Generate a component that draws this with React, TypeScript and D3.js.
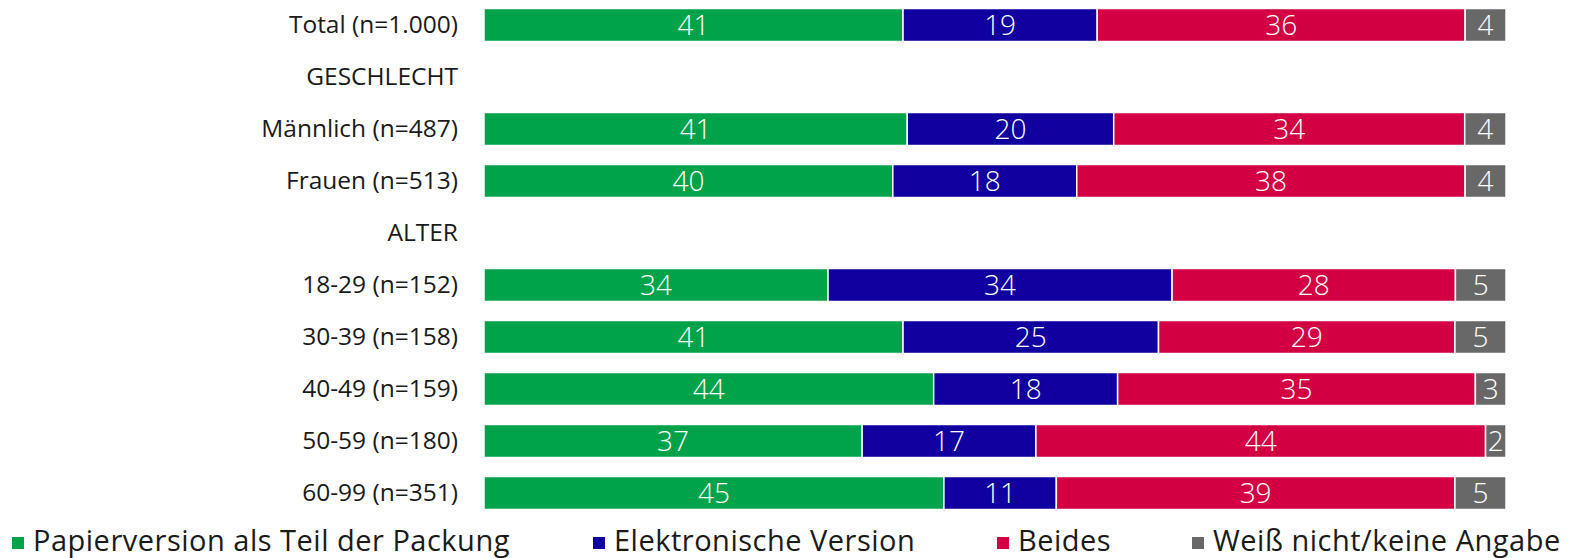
import React from "react";
import * as d3 from "d3";

const categories = [
  "Total (n=1.000)",
  "GESCHLECHT",
  "Männlich (n=487)",
  "Frauen (n=513)",
  "ALTER",
  "18-29 (n=152)",
  "30-39 (n=158)",
  "40-49 (n=159)",
  "50-59 (n=180)",
  "60-99 (n=351)",
];

const seriesNames = [
  "Papierversion als Teil der Packung",
  "Elektronische Version",
  "Beides",
  "Weiß nicht/keine Angabe",
];

const papier = [41, null, 41, 40, null, 34, 41, 44, 37, 45];
const elektronisch = [19, null, 20, 18, null, 34, 25, 18, 17, 11];
const beides = [36, null, 34, 38, null, 28, 29, 35, 44, 39];
const weissNicht = [4, null, 4, 4, null, 5, 5, 3, 2, 5];

const seriesValues = [papier, elektronisch, beides, weissNicht];
const colors = ["#00A34A", "#1000A0", "#D20043", "#686868"];

const W = 1574;
const H = 558;
const legendX = [12, 593, 997, 1192];

export default function App() {
  const x = d3.scaleLinear().domain([0, 1]).range([484, 1506]);
  const y = d3
    .scaleBand<string>()
    .domain(categories)
    .range([-1, 519])
    .paddingInner(0.365)
    .paddingOuter(0.1825);

  const rows = categories.map((cat, i) => {
    const vals = seriesValues.map((s) => s[i]);
    if (vals[0] === null) return { cat, segs: [] as any[] };
    const total = d3.sum(vals as number[]);
    let acc = 0;
    const segs = (vals as number[]).map((v, k) => {
      const x0 = acc / total;
      acc += v;
      const x1 = acc / total;
      return { v, k, x0, x1 };
    });
    return { cat, segs };
  });

  const bw = y.bandwidth();

  return (
    <svg
      width={W}
      height={H}
      style={{ position: "absolute", left: 0, top: 0, background: "#fff" }}
      fontFamily="'Open Sans', sans-serif"
    >
      {rows.map((r) => {
        const y0 = y(r.cat)!;
        const cy = y0 + bw / 2;
        return (
          <g key={r.cat}>
            <text
              x={458}
              y={cy - 1.5}
              textAnchor="end"
              dominantBaseline="central"
              fontSize={24.5}
              fill="#1a1a1a"
            >
              {r.cat}
            </text>
            {r.segs.map((s: any) => (
              <g key={s.k}>
                <rect
                  x={x(s.x0)}
                  y={y0}
                  width={x(s.x1) - x(s.x0)}
                  height={bw}
                  fill={colors[s.k]}
                  stroke="#fff"
                  strokeWidth={1.5}
                />
                <text
                  x={(x(s.x0) + x(s.x1)) / 2}
                  y={cy - 1}
                  textAnchor="middle"
                  dominantBaseline="central"
                  fontSize={28}
                  fontWeight={300}
                  fill="#fff"
                >
                  {s.v}
                </text>
              </g>
            ))}
          </g>
        );
      })}
      {seriesNames.map((name, k) => (
        <g key={name} transform={`translate(${legendX[k]},0)`}>
          <rect x={0} y={537} width={12} height={12} fill={colors[k]} />
          <text x={21} y={550.5} fontSize={29} letterSpacing={0.5} fill="#1a1a1a">
            {name}
          </text>
        </g>
      ))}
    </svg>
  );
}
